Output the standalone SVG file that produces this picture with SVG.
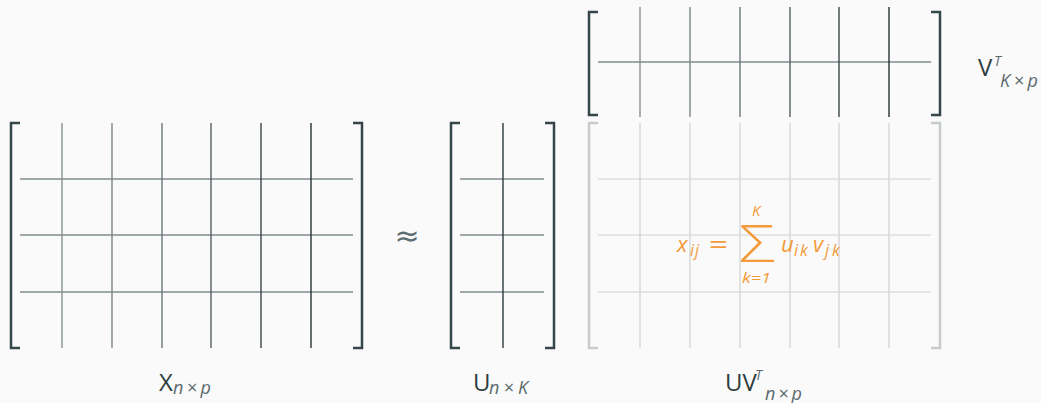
<svg xmlns="http://www.w3.org/2000/svg" width="1041" height="403" viewBox="0 0 1041 403">
<style>
.br{fill:none;stroke:#34464a;stroke-width:2.5}
.brl{fill:none;stroke:#c8cbcb;stroke-width:2.5}
.h{stroke:#7f8c8d;stroke-width:1.6}
.hl{stroke:#dedede;stroke-width:1.6}
.vl{stroke:#d6d6d6;stroke-width:1.4}
.v{stroke-width:1.4}
.lab{font-family:"Open Sans","Liberation Sans",sans-serif;fill:#2e3d40}
.sub{font-family:"Open Sans","Liberation Sans",sans-serif;font-style:italic;fill:#5c6b6e}
.m{font-family:"Open Sans","Liberation Sans",sans-serif;font-style:italic;fill:#f39a3a}
.mr{font-family:"Open Sans","Liberation Sans",sans-serif;fill:#f39a3a}
</style>
<rect width="1041" height="403" fill="#fafafa"/>

<g id="X">
<line class="h" x1="20" y1="179" x2="353" y2="179"/>
<line class="h" x1="20" y1="235" x2="353" y2="235"/>
<line class="h" x1="20" y1="292" x2="353" y2="292"/>
<line class="v" x1="62" y1="123" x2="62" y2="348" stroke="#86918f"/>
<line class="v" x1="112" y1="123" x2="112" y2="348" stroke="#7a8686"/>
<line class="v" x1="162" y1="123" x2="162" y2="348" stroke="#6a7777"/>
<line class="v" x1="211" y1="123" x2="211" y2="348" stroke="#535f60"/>
<line class="v" x1="261" y1="123" x2="261" y2="348" stroke="#3a4648"/>
<line class="v" x1="311" y1="123" x2="311" y2="348" stroke="#263234"/>
<path class="br" d="M20,123 H11 V348 H20"/>
<path class="br" d="M353,123 H362 V348 H353"/>
<text class="lab" x="159" y="391" font-size="24">X</text>
<text class="sub" x="173" y="394" font-size="18" textLength="38" lengthAdjust="spacing">n×p</text>
</g>

<g id="approx">
<text x="407" y="246" font-family="DejaVu Sans, sans-serif" font-size="30" fill="#5d6d70" text-anchor="middle">≈</text>
</g>

<g id="U">
<line class="h" x1="460" y1="179" x2="544" y2="179"/>
<line class="h" x1="460" y1="235" x2="544" y2="235"/>
<line class="h" x1="460" y1="292" x2="544" y2="292"/>
<line class="v" x1="503" y1="123" x2="503" y2="348" stroke="#2c393c"/>
<path class="br" d="M460,123 H451 V348 H460"/>
<path class="br" d="M545,123 H554 V348 H545"/>
<text class="lab" x="473" y="391" font-size="24">U</text>
<text class="sub" x="489" y="394" font-size="18" textLength="39" lengthAdjust="spacing">n×K</text>
</g>

<g id="VT">
<line class="h" x1="598" y1="62" x2="931" y2="62"/>
<line class="v" x1="640" y1="7" x2="640" y2="117" stroke="#86918f"/>
<line class="v" x1="690" y1="7" x2="690" y2="117" stroke="#7a8686"/>
<line class="v" x1="740" y1="7" x2="740" y2="117" stroke="#6a7777"/>
<line class="v" x1="790" y1="7" x2="790" y2="117" stroke="#535f60"/>
<line class="v" x1="839" y1="7" x2="839" y2="117" stroke="#3a4648"/>
<line class="v" x1="889" y1="7" x2="889" y2="117" stroke="#263234"/>
<path class="br" d="M598,12 H589 V115 H598"/>
<path class="br" d="M931,12 H940 V115 H931"/>
<text class="lab" x="978" y="76" font-size="24">V</text>
<text class="sub" x="994" y="66" font-size="14" fill="#2e3d40">T</text>
<text class="sub" x="1000" y="87" font-size="18" textLength="38" lengthAdjust="spacing">K×p</text>
</g>

<g id="UVT">
<line class="hl" x1="598" y1="179" x2="931" y2="179"/>
<line class="hl" x1="598" y1="235" x2="931" y2="235"/>
<line class="hl" x1="598" y1="292" x2="931" y2="292"/>
<line class="vl" x1="640" y1="123" x2="640" y2="348"/>
<line class="vl" x1="690" y1="123" x2="690" y2="348"/>
<line class="vl" x1="740" y1="123" x2="740" y2="348"/>
<line class="vl" x1="790" y1="123" x2="790" y2="348"/>
<line class="vl" x1="839" y1="123" x2="839" y2="348"/>
<line class="vl" x1="889" y1="123" x2="889" y2="348"/>
<path class="brl" d="M598,123 H589 V348 H598"/>
<path class="brl" d="M931,123 H940 V348 H931"/>
<text class="lab" x="725" y="391" font-size="24">UV</text>
<text class="sub" x="755" y="380" font-size="14" fill="#2e3d40">T</text>
<text class="sub" x="765" y="400" font-size="18" textLength="37" lengthAdjust="spacing">n×p</text>
<text class="m" x="677" y="252" font-size="22">x</text>
<text class="m" x="690" y="256" font-size="16" letter-spacing="1">ij</text>
<text class="mr" x="709" y="254" font-size="28" textLength="19" lengthAdjust="spacingAndGlyphs">=</text>
<text class="mr" x="739" y="262" font-size="52" font-weight="300" textLength="36" lengthAdjust="spacingAndGlyphs">Σ</text>
<text class="m" x="752" y="216" font-size="15">K</text>
<text class="m" x="742" y="283" font-size="15" textLength="29" lengthAdjust="spacingAndGlyphs">k=1</text>
<text class="m" x="781" y="252" font-size="22">u</text>
<text class="m" x="794" y="256" font-size="16" letter-spacing="2">ik</text>
<text class="m" x="813" y="252" font-size="22">v</text>
<text class="m" x="825" y="256" font-size="16" letter-spacing="3">jk</text>
</g>
</svg>
